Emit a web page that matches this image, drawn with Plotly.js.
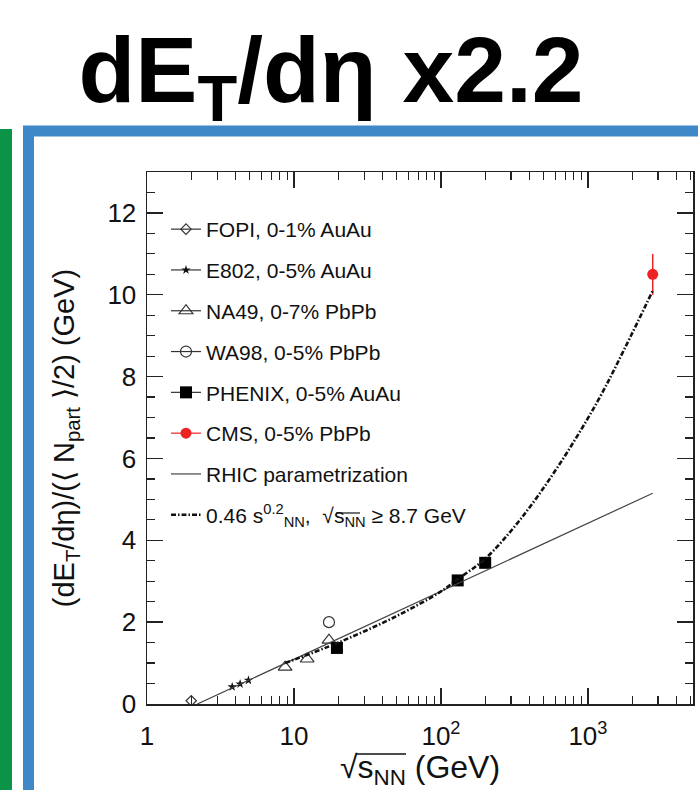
<!DOCTYPE html>
<html>
<head>
<meta charset="utf-8">
<script src="https://cdn.plot.ly/plotly-3.0.1.min.js"></script>
<style>
  html, body { margin: 0; padding: 0; background: #fff; }
  #chart { width: 698px; height: 790px; }
</style>
</head>
<body>
<div id="chart"></div>
<script>
// ---- data ----
const fopiX = [2.0];
const fopiY = [0.08];
const e802X = [3.8, 4.3, 4.9];
const e802Y = [0.42, 0.49, 0.58];
const na49X = [8.7, 12.3, 17.3];
const na49Y = [0.9, 1.1, 1.56];
const wa98X = [17.3];
const wa98Y = [2.0];
const phenixX = [19.6, 130, 200];
const phenixY = [1.37, 3.02, 3.45];
const cmsX = [2760];
const cmsY = [10.5];
const cmsErr = [0.5];
const rhicX = [2.2, 200, 2760];
const rhicY = [0.0, 3.25, 5.15];
const fitX = [8.7, 20, 50, 100, 130, 200, 345, 625, 1165, 1786, 2760];
const fitY = [1.0, 1.5, 2.15, 2.75, 3.05, 3.55, 4.5, 5.8, 7.4, 8.7, 10.1];

const legendNames = [
  'FOPI, 0-1% AuAu',
  'E802, 0-5% AuAu',
  'NA49, 0-7% PbPb',
  'WA98, 0-5% PbPb',
  'PHENIX, 0-5% AuAu',
  'CMS, 0-5% PbPb',
  'RHIC parametrization',
  '0.46 s<sup>0.2</sup><sub>NN</sub>,  √s<sub>NN</sub> ≥ 8.7 GeV'
];
const xTickVals = [1, 10, 100, 1000];
const xTickText = ['1', '10', '10<sup>2</sup>', '10<sup>3</sup>'];

// ---- helpers ----
// interleave nulls so markers are not joined, while the legend still shows a line through the symbol
function sep(arr) {
  const out = [];
  arr.forEach((v, i) => { if (i) out.push(null); out.push(v); });
  return out;
}
const W = 698, H = 790, ML = 147, MR = 5, MT = 172, MB = 86;
const PW = W - ML - MR, PH = H - MT - MB;
const px = X => (X - ML) / PW;
const py = Y => (H - MB - Y) / PH;

const minorX = [];
for (let d = 1; d <= 1000; d *= 10) {
  for (let k = 2; k <= 9; k++) { if (k * d < 5200) minorX.push(k * d); }
}

const legLine = { color: '#333', width: 1.2 };

const traces = [
  { x: fopiX, y: fopiY, name: legendNames[0], legendgroup: 'g1', mode: 'lines+markers',
    line: legLine, marker: { symbol: 'diamond-open', size: 8, color: '#333', line: { width: 1.2 } } },
  { x: sep(e802X), y: sep(e802Y), name: legendNames[1], legendgroup: 'g2', mode: 'lines+markers', connectgaps: false,
    line: legLine, marker: { symbol: 'star', size: 7, color: '#111' } },
  { x: sep(na49X), y: sep(na49Y), name: legendNames[2], legendgroup: 'g3', mode: 'lines+markers', connectgaps: false,
    line: legLine, marker: { symbol: 'triangle-up-open', size: 12, color: '#333', line: { width: 1.2 } } },
  { x: wa98X, y: wa98Y, name: legendNames[3], legendgroup: 'g4', mode: 'lines+markers',
    line: legLine, marker: { symbol: 'circle-open', size: 11, color: '#333', line: { width: 1.2 } } },
  { x: sep(phenixX), y: sep(phenixY), name: legendNames[4], legendgroup: 'g5', mode: 'lines+markers', connectgaps: false,
    line: legLine, marker: { symbol: 'square', size: 12, color: '#000' } },
  { x: cmsX, y: cmsY, name: legendNames[5], legendgroup: 'g6', mode: 'lines+markers',
    line: { color: '#ee2222', width: 1.2 }, marker: { symbol: 'circle', size: 11, color: '#ee2222' },
    error_y: { type: 'data', array: cmsErr, visible: true, color: '#ee2222', thickness: 1.5, width: 0 } },
  { x: rhicX, y: rhicY, name: legendNames[6], legendgroup: 'g7', mode: 'lines',
    line: { color: '#444', width: 1.2 } },
  { x: fitX, y: fitY, name: legendNames[7], legendgroup: 'g8', mode: 'lines',
    line: { color: '#111', width: 2.6, dash: '5px,2px,1.5px,2px', shape: 'spline' } }
];

const axisCommon = {
  showline: true, linecolor: '#222', linewidth: 1.5, mirror: 'ticks',
  ticks: 'inside', ticklen: 16, tickwidth: 1.4, tickcolor: '#222',
  showgrid: false, zeroline: false,
  tickfont: { size: 26, color: '#111' }
};

const layout = {
  width: W, height: H,
  margin: { l: ML, r: MR, t: MT, b: MB },
  paper_bgcolor: '#fff', plot_bgcolor: '#fff',
  font: { family: '"Liberation Sans", Arial, Helvetica, sans-serif', color: '#111' },
  showlegend: true,
  legend: {
    x: px(166), y: py(209), xanchor: 'left', yanchor: 'top',
    bgcolor: 'rgba(0,0,0,0)', borderwidth: 0,
    font: { size: 21, color: '#111' },
    traceorder: 'grouped', tracegroupgap: 10.5
  },
  title: {
    text: '<b>dE<sub>T</sub>/dη x2.2</b>',
    font: { size: 93, color: '#000', family: '"Liberation Sans", Arial, sans-serif' },
    x: 331 / W, xanchor: 'center', xref: 'container',
    y: 1 - 69 / H, yanchor: 'middle', yref: 'container'
  },
  xaxis: Object.assign({}, axisCommon, {
    type: 'log', range: [0, 3.715],
    tickmode: 'array', tickvals: xTickVals, ticktext: xTickText,
    ticklabelstandoff: 8,
    minor: { tickmode: 'array', tickvals: minorX, ticks: 'inside', ticklen: 8, tickwidth: 1.2, tickcolor: '#222', showgrid: false },
    title: { text: '√s<sub>NN</sub> (GeV)', font: { size: 32, color: '#111' }, standoff: 6 }
  }),
  yaxis: Object.assign({}, axisCommon, {
    range: [0, 13], tick0: 0, dtick: 2,
    ticklabelstandoff: 4,
    minor: { dtick: 0.5, ticks: 'inside', ticklen: 8, tickwidth: 1.2, tickcolor: '#222', showgrid: false },
    title: { text: '(dE<sub>T</sub>/dη)/(⟨ N<sub>part</sub> ⟩/2) (GeV)', font: { size: 29, color: '#111' }, standoff: 24 }
  }),
  shapes: [
    { type: 'rect', xref: 'paper', yref: 'paper', x0: px(0), x1: px(12), y0: py(800), y1: py(129),
      fillcolor: '#0b9447', line: { width: 0 }, layer: 'above' },
    { type: 'rect', xref: 'paper', yref: 'paper', x0: px(28.5), x1: px(720), y0: py(820), y1: py(131),
      fillcolor: 'rgba(0,0,0,0)', line: { width: 11, color: '#3f88c8' }, layer: 'above' },
    // radical-sign bars over s_NN (x title and legend)
    { type: 'line', xref: 'paper', yref: 'paper', x0: px(356), x1: px(406), y0: py(754), y1: py(754),
      line: { width: 1.5, color: '#111' }, layer: 'above' },
    { type: 'line', xref: 'paper', yref: 'paper', x0: px(336), x1: px(360), y0: py(513), y1: py(513),
      line: { width: 1.2, color: '#111' }, layer: 'above' }
  ]
};

Plotly.newPlot('chart', traces, layout, { displayModeBar: false, staticPlot: true });
</script>
</body>
</html>
